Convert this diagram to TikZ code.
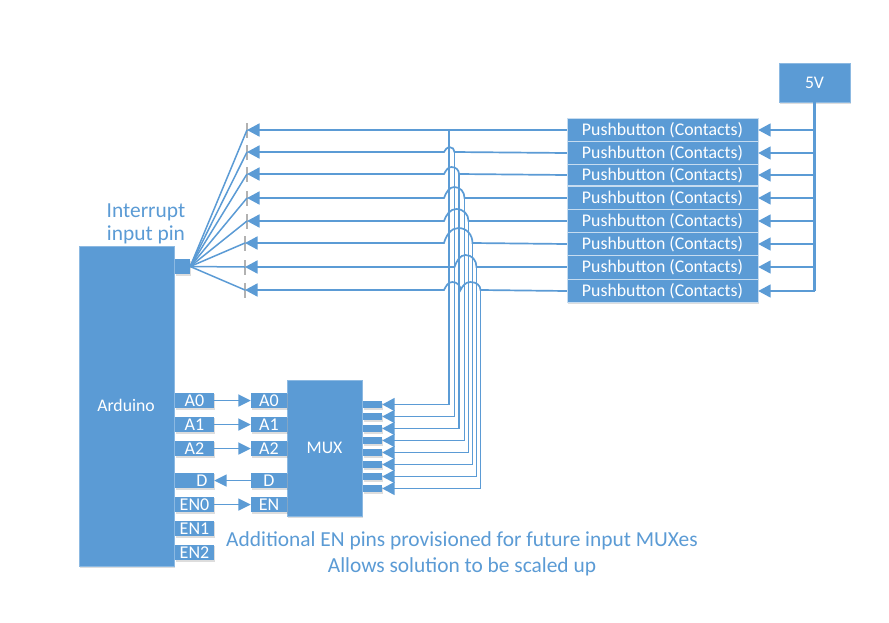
\documentclass[tikz,border=0pt]{standalone}
\usepackage{fontspec}
\setmainfont{Carlito}
\usetikzlibrary{arrows.meta,shadows}
\definecolor{blu}{HTML}{5B9BD5}
\definecolor{lbl}{HTML}{5B9BD5}
\newcommand\domehop[4]{.. controls (#1,{#3-0.55*(#3-#4)}) and ({(#1+#2)/2+0.3*(#1-#2)},#4) .. ({(#1+#2)/2},#4) .. controls ({(#1+#2)/2-0.25*(#1-#2)},#4) and ({#2+2},{#4+0.5*(#3-#4)}) .. (#2,#3)}
\tikzset{
  x=1pt,y=-1pt,
  shad/.style={drop shadow={shadow xshift=0.6pt,shadow yshift=-1.6pt,opacity=.22,fill=black!60}},
  boxb/.style={rectangle,fill=blu,draw=blu!70!white,line width=.4pt,inner sep=0pt,text=white,shad},
  btn/.style={boxb,draw=blu!35!white,minimum width=191pt,font=\fontsize{17.8}{18}\selectfont},
  small/.style={boxb,draw=none,minimum width=39pt,minimum height=15.5pt,font=\fontsize{18}{18}\selectfont},
  smallr/.style={small,minimum width=36pt},
  pinbox/.style={boxb,draw=none,minimum width=19pt,minimum height=7pt},
  tickm/.style={rectangle,fill=black!30,inner sep=0pt,minimum width=1.2pt,minimum height=15pt},
  wire/.style={draw=blu,line width=1.7pt},
  arr/.style={wire,-{Triangle[length=12.5pt,width=13pt]},shorten >=0pt},
  thin arr/.style={wire,-{Triangle[length=12.5pt,width=12pt]}},
  captxt/.style={text=lbl,font=\fontsize{21.4}{26}\selectfont,align=center,inner sep=0pt},
  irqtxt/.style={text=lbl,font=\fontsize{21.4}{23}\selectfont,align=center,inner sep=0pt},
}
\begin{document}
\begin{tikzpicture}
\useasboundingbox (0,0) rectangle (889,622);
\fill[white] (0,0) rectangle (889,622);
% main boxes
\node[boxb,minimum width=95pt,minimum height=320pt] (ard) at (126.5,406) {};
\node[text=white,font=\fontsize{17.7}{18}\selectfont,inner sep=0pt] (ardt) at (126,405.5) {Arduino};
\node[boxb,minimum width=75pt,minimum height=136pt,font=\fontsize{17.7}{18}\selectfont] (mux) at (324.5,448) {MUX};
\node[boxb,minimum width=71pt,minimum height=39pt,font=\fontsize{17.7}{18}\selectfont] (v5) at (814.5,82.5) {5V};
\node[boxb,draw=none,minimum width=15pt,minimum height=15pt] (irq) at (182.5,266.5) {};
% pushbuttons
\foreach \i/\y/\h in {1/130/23,2/153/24,3/175/21,4/198/23,5/221/23,6/244/23,7/267/24,8/291/23}
  \node[btn,minimum height=\h pt] (b\i) at (662.5,\y) {Pushbutton (Contacts)};
% pins on the MUX
\foreach \i/\y in {1/404.5,2/416.5,3/428.5,4/440.5,5/452.5,6/464.5,7/476.5,8/488.5}
  \node[pinbox] (p\i) at (372.5,\y) {};
% ticks
\foreach \i/\x/\y in {1/247/130,2/247/152,3/247/174,4/247/198,5/247/221,6/245/243,7/245/267,8/245/290}
  \node[tickm] (t\i) at (\x,\y) {};
% left and right small boxes
\node[small] (la0) at (194.5,400.5) {A0};
\node[small] (la1) at (194.5,424.5) {A1};
\node[small] (la2) at (194.5,448.5) {A2};
\node[small,text width=30pt,align=right] (ld) at (194.5,480.5) {D\hspace*{2pt}};
\node[small] (len0) at (194.5,504.5) {EN0};
\node[small] (len1) at (194.5,528.5) {EN1};
\node[small] (len2) at (194.5,552.5) {EN2};
\node[smallr] (ra0) at (269,400.5) {A0};
\node[smallr] (ra1) at (269,424.5) {A1};
\node[smallr] (ra2) at (269,448.5) {A2};
\node[smallr] (rd) at (269,480.5) {D};
\node[smallr] (ren) at (269,504.5) {EN};
\draw[thin arr] (la0) -- (ra0);
\draw[thin arr] (la1) -- (ra1);
\draw[thin arr] (la2) -- (ra2);
\draw[thin arr] (rd) -- (ld);
\draw[thin arr] (len0) -- (ren);
% fan out
\foreach \i in {1,...,8}
  \draw[wire,line width=1.5pt] (irq.east) -- (t\i.center);
% 5V rail
\coordinate (railend) at (814.5,291);
\draw[draw=blu,line width=3pt] (v5.south) -- (railend);
\foreach \i in {1,...,8}
  \draw[arr] (b\i.east -| v5.south) -- (b\i.east);
% row 1
\draw[arr] (b1.west) -- (t1.center);
% rows with a single hop: button -> hop -> tick
\foreach \i/\r/\top/\tp in {2/454.5/147/152,3/459/167/174,4/464.5/187/198,5/468.5/209/221,6/472.5/228/243}{
  \draw[arr] (b\i.west) -- (\r,\tp) \domehop{\r}{444}{\tp}{\top} -- (t\i.center);
}
% row 7: hop starts further right
\draw[arr] (b7.west) -- (476.5,267) \domehop{476.5}{454.5}{267}{255} -- (t7.center);
% row 8: two hops
\draw[arr] (b8.west) -- (480.5,290) \domehop{480.5}{460.5}{290}{282} \domehop{460.5}{444}{290}{282} -- (t8.center);
% verticals down to the MUX pins
\foreach \i/\x/\y in {1/449/130,2/454.5/152,3/459/174,4/464.5/198,5/468.5/221,6/472.5/243,7/476.5/267,8/480.5/290}{
  \coordinate (v\i) at (\x,\y);
  \draw[arr] (v\i) |- (p\i.east);
}
% captions
\node[irqtxt] (irqt) at (146,224) {Interrupt\\input pin};
\node[captxt] (note) at (462,553.5) {Additional EN pins provisioned for future input MUXes\\Allows solution to be scaled up};
\end{tikzpicture}
\end{document}
